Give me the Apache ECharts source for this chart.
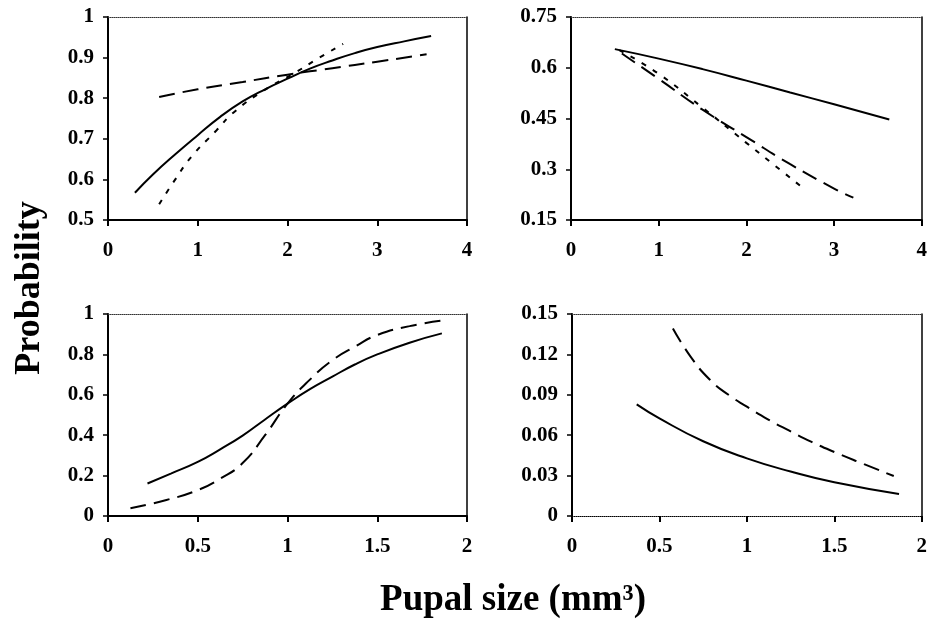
<!DOCTYPE html>
<html><head><meta charset="utf-8">
<script src="https://cdn.jsdelivr.net/npm/echarts@6/dist/echarts.min.js"></script>
<style>html,body{margin:0;padding:0;background:#fff}#c{width:930px;height:630px}</style>
</head><body><div id="c"></div>
<script>
// Top-left panel
const tlSolidX = [0.3, 0.5, 0.75, 1.0, 1.25, 1.5, 1.75, 2.0, 2.25, 2.5, 2.75, 3.0, 3.3, 3.6];
const tlSolidY = [0.567, 0.612, 0.662, 0.709, 0.754, 0.792, 0.822, 0.848, 0.873, 0.893, 0.911, 0.926, 0.940, 0.953];
const tlLongX = [0.57, 1.0, 1.5, 2.0, 2.5, 3.0, 3.55];
const tlLongY = [0.803, 0.822, 0.840, 0.858, 0.874, 0.890, 0.908];
const tlDotX = [0.57, 0.75, 0.93, 1.21, 1.40, 1.73, 2.07, 2.35, 2.62];
const tlDotY = [0.539, 0.600, 0.656, 0.721, 0.765, 0.818, 0.861, 0.899, 0.934];
// Top-right panel
const trSolidX = [0.5, 1.0, 1.5, 2.0, 2.5, 3.0, 3.63];
const trSolidY = [0.655, 0.627, 0.596, 0.562, 0.527, 0.492, 0.447];
const trLongX = [0.58, 1.0, 1.5, 2.0, 2.5, 3.0, 3.22];
const trLongY = [0.642, 0.567, 0.476, 0.395, 0.315, 0.243, 0.216];
const trDotX = [0.55, 1.0, 1.5, 2.0, 2.3, 2.62];
const trDotY = [0.652, 0.582, 0.482, 0.378, 0.316, 0.250];
// Bottom-left panel
const blSolidX = [0.22, 0.35, 0.5, 0.625, 0.75, 0.875, 1.0, 1.125, 1.25, 1.375, 1.5, 1.68, 1.86];
const blSolidY = [0.161, 0.210, 0.268, 0.330, 0.398, 0.478, 0.556, 0.628, 0.690, 0.750, 0.800, 0.858, 0.904];
const blLongX = [0.125, 0.32, 0.5, 0.625, 0.75, 0.875, 1.0, 1.125, 1.25, 1.375, 1.5, 1.68, 1.86];
const blLongY = [0.038, 0.078, 0.128, 0.185, 0.262, 0.400, 0.556, 0.675, 0.771, 0.838, 0.896, 0.940, 0.967];
// Bottom-right panel
const brSolidX = [0.37, 0.5, 0.75, 1.0, 1.25, 1.5, 1.87];
const brSolidY = [0.0829, 0.0725, 0.0555, 0.0428, 0.0330, 0.0250, 0.0163];
const brLongX = [0.577, 0.68, 0.79, 0.9, 1.0, 1.12, 1.24, 1.37, 1.5, 1.67, 1.84];
const brLongY = [0.1393, 0.1180, 0.1010, 0.0895, 0.0812, 0.0718, 0.0635, 0.0550, 0.0475, 0.0385, 0.0297];
// Axis ranges and titles
const yRanges = [[0.5, 1, 0.1], [0.15, 0.75, 0.15], [0, 1, 0.2], [0, 0.15, 0.03]];
const xRanges = [[0, 4, 1], [0, 4, 1], [0, 2, 0.5], [0, 2, 0.5]];
const yTitle = 'Probability';
const xTitle = 'Pupal size (mm\u00B3)';

function zip(xs, ys) { return xs.map((x, i) => [x, ys[i]]); }
const FONT = "'Liberation Serif', 'Times New Roman', serif";
const grids = [
  {left: 108, top: 17, width: 359, height: 203},
  {left: 571, top: 17, width: 358, height: 203},
  {left: 108, top: 314, width: 359, height: 202},
  {left: 572, top: 314, width: 357, height: 202}
];
const xAxes = [], yAxes = [];
for (let i = 0; i < 4; i++) {
  xAxes.push({
    type: 'value', gridIndex: i, min: xRanges[i][0], max: xRanges[i][1], interval: xRanges[i][2],
    axisLine: {show: true, onZero: false, lineStyle: {color: '#000', width: i === 3 ? 1 : 2, type: i === 3 ? 'dotted' : 'solid'}},
    axisTick: {show: true, length: 6, lineStyle: {color: '#000', width: 2}},
    axisLabel: {color: '#000', fontFamily: FONT, fontWeight: 'bold', fontSize: 21, margin: 20},
    splitLine: {show: false}
  });
  yAxes.push({
    type: 'value', gridIndex: i, min: yRanges[i][0], max: yRanges[i][1], interval: yRanges[i][2],
    axisLine: {show: true, onZero: false, lineStyle: {color: '#000', width: 2}},
    axisTick: {show: true, length: 5, lineStyle: {color: '#000', width: 1.5}},
    axisLabel: {color: '#000', fontFamily: FONT, fontWeight: 'bold', fontSize: 21, margin: 14},
    splitLine: {show: false}
  });
}
for (let i = 0; i < 4; i++) {
  xAxes.push({
    type: 'value', gridIndex: i, position: 'top', min: xRanges[i][0], max: xRanges[i][1],
    axisLine: {show: true, onZero: false, lineStyle: {color: '#333', width: 1, type: 'dotted'}},
    axisTick: {show: false}, axisLabel: {show: false}, splitLine: {show: false}
  });
  yAxes.push({
    type: 'value', gridIndex: i, position: 'right', min: yRanges[i][0], max: yRanges[i][1],
    axisLine: {show: true, onZero: false, lineStyle: {color: '#000', width: 1.5}},
    axisTick: {show: false}, axisLabel: {show: false}, splitLine: {show: false}
  });
}
function ser(idx, xs, ys, type) {
  return {
    type: 'line', xAxisIndex: idx, yAxisIndex: idx, data: zip(xs, ys), smooth: 0.5,
    showSymbol: false, silent: true,
    lineStyle: {color: '#000', width: 2, type: type}
  };
}
const LONG = [16, 8], DOT = [5, 8];
const series = [
  ser(0, tlSolidX, tlSolidY, 'solid'),
  ser(0, tlLongX, tlLongY, LONG),
  ser(0, tlDotX, tlDotY, DOT),
  ser(1, trSolidX, trSolidY, 'solid'),
  ser(1, trLongX, trLongY, LONG),
  ser(1, trDotX, trDotY, DOT),
  ser(2, blSolidX, blSolidY, 'solid'),
  ser(2, blLongX, blLongY, LONG),
  ser(3, brSolidX, brSolidY, 'solid'),
  ser(3, brLongX, brLongY, LONG)
];
const chart = echarts.init(document.getElementById('c'), null, {renderer: 'canvas'});
chart.setOption({
  animation: false,
  backgroundColor: '#fff',
  grid: grids,
  xAxis: xAxes,
  yAxis: yAxes,
  series: series,
  graphic: [
    {type: 'text', x: 30, y: 288, rotation: Math.PI / 2,
     style: {text: yTitle, font: "bold 36px 'Liberation Serif'", fill: '#000', align: 'center', verticalAlign: 'middle'}},
    {type: 'text', x: 513, y: 600,
     style: {text: xTitle, font: "bold 37px 'Liberation Serif'", fill: '#000', align: 'center', verticalAlign: 'middle'}}
  ]
});
</script></body></html>
